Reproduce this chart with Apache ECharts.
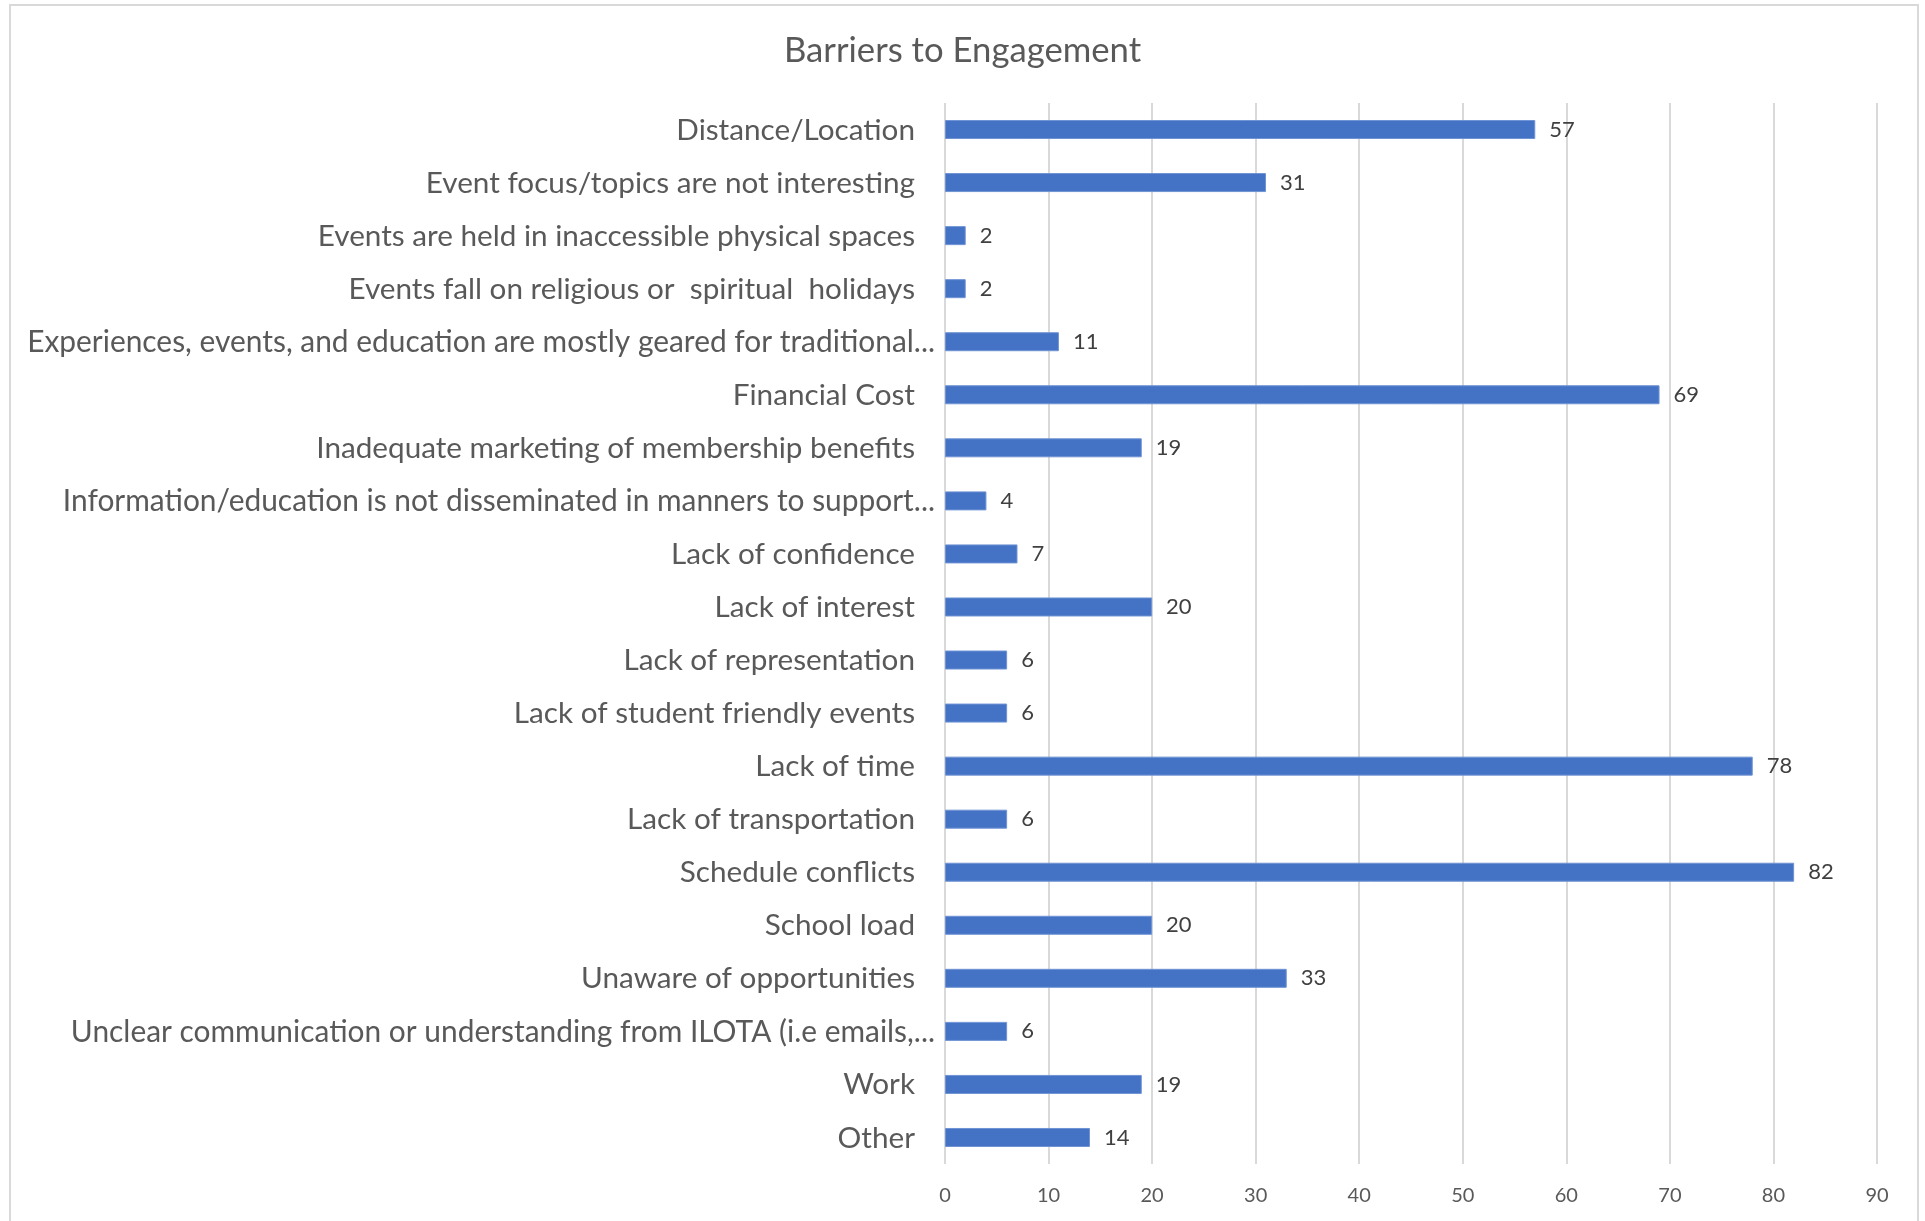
<!DOCTYPE html>
<html>
<head>
<meta charset="utf-8">
<title>Barriers to Engagement</title>
<script src="https://cdn.jsdelivr.net/npm/echarts@6/dist/echarts.min.js"></script>
<style>
  html, body { margin: 0; padding: 0; background: #ffffff; }
  #chart { width: 1925px; height: 1221px; }
</style>
</head>
<body>
<div id="chart"></div>
<script>
// Survey responses: barriers to engagement (number of respondents)
const chartTitle = 'Barriers to Engagement';

const categories = [
  'Distance/Location',
  'Event focus/topics are not interesting',
  'Events are held in inaccessible physical spaces',
  'Events fall on religious or  spiritual  holidays',
  'Experiences, events, and education are mostly geared for traditional...',
  'Financial Cost',
  'Inadequate marketing of membership benefits',
  'Information/education is not disseminated in manners to support...',
  'Lack of confidence',
  'Lack of interest',
  'Lack of representation',
  'Lack of student friendly events',
  'Lack of time',
  'Lack of transportation',
  'Schedule conflicts',
  'School load',
  'Unaware of opportunities',
  'Unclear communication or understanding from ILOTA (i.e emails,...',
  'Work',
  'Other'
];

const responses = [57, 31, 2, 2, 11, 69, 19, 4, 7, 20, 6, 6, 78, 6, 82, 20, 33, 6, 19, 14];

const axisMin = 0;
const axisMax = 90;
const axisStep = 10;

const FONT = 'Lato, "Open Sans", sans-serif';

const chart = echarts.init(document.getElementById('chart'), null, { renderer: 'canvas' });

chart.setOption({
  backgroundColor: '#ffffff',
  animation: false,
  title: {
    text: chartTitle,
    left: 'center',
    top: 33,
    padding: 0,
    textStyle: {
      fontFamily: FONT,
      fontSize: 34.7,
      fontWeight: 'normal',
      color: '#595959'
    }
  },
  graphic: [{
    type: 'rect',
    silent: true,
    shape: { x: 10, y: 5, width: 1908, height: 1240 },
    style: { fill: 'none', stroke: '#d9d9d9', lineWidth: 2 }
  }],
  grid: {
    left: 945,
    right: 48,
    top: 103,
    bottom: 57,
    containLabel: false
  },
  xAxis: {
    type: 'value',
    min: axisMin,
    max: axisMax,
    interval: axisStep,
    axisLine: { show: false },
    axisTick: { show: false },
    splitLine: { show: true, lineStyle: { color: '#d9d9d9', width: 2 } },
    axisLabel: {
      margin: 22,
      fontFamily: FONT,
      fontSize: 20,
      color: '#595959'
    }
  },
  yAxis: {
    type: 'category',
    data: categories,
    inverse: true,
    axisLine: { show: false },
    axisTick: { show: false },
    splitLine: { show: false },
    axisLabel: {
      margin: 30,
      fontFamily: FONT,
      fontSize: 29.7,
      color: '#595959',
      // truncated names sit a little closer to the axis
      formatter: function (v) {
        return v.endsWith('...') ? '{cut|' + v + '}' : '{full|' + v + '}';
      },
      rich: {
        full: { fontFamily: FONT, fontSize: 29.7, color: '#595959', padding: [1, 0, 0, 0] },
        cut: { fontFamily: FONT, fontSize: 29.9, color: '#595959', padding: [1, -20, 0, 0] }
      }
    }
  },
  series: [{
    type: 'bar',
    data: responses,
    barWidth: 19,
    itemStyle: {
      color: '#4472c4',
      borderColor: '#6f93d4',
      borderWidth: 1
    },
    label: {
      show: true,
      position: 'right',
      distance: 14,
      fontFamily: FONT,
      fontSize: 22,
      color: '#404040',
      padding: [2, 0, 0, 0]
    }
  }]
});
</script>
</body>
</html>
